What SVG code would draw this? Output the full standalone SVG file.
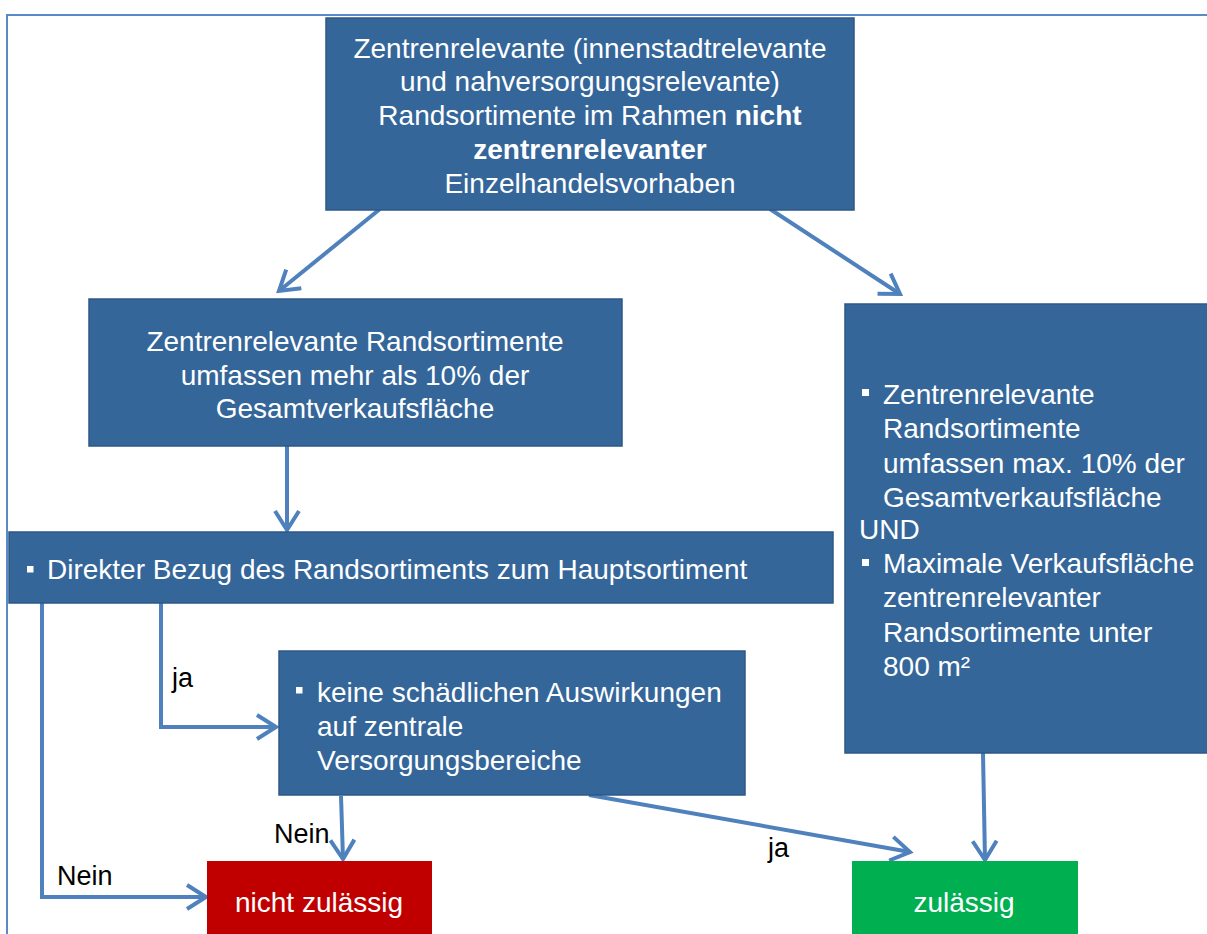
<svg xmlns="http://www.w3.org/2000/svg" width="1207" height="934" viewBox="0 0 1207 934">
<style>
.box{fill:#34669a;stroke:#2c5886;stroke-width:1.5}
.t{font-family:"Liberation Sans",Arial,sans-serif;font-size:28px;fill:#ffffff}
.c{text-anchor:middle}
.lbl{font-family:"Liberation Sans",Arial,sans-serif;font-size:27px;fill:#000000}
.con{fill:none;stroke:#4f81bd;stroke-width:4;stroke-linejoin:miter}
.bul{fill:#ffffff}
</style>
<defs>
<marker id="arr" viewBox="0 0 24 28" refX="21" refY="14" markerWidth="24" markerHeight="28" markerUnits="userSpaceOnUse" orient="auto" overflow="visible">
<path d="M2,2 L21,14 L2,26" fill="none" stroke="#4f81bd" stroke-width="4" stroke-linejoin="miter"/>
</marker>
</defs>
<rect width="1207" height="934" fill="#ffffff"/>
<path d="M7,934 L7,15 L1207,15" fill="none" stroke="#5a8ac6" stroke-width="2"/>

<g id="connectors">
<line class="con" x1="380" y1="209" x2="279" y2="291" marker-end="url(#arr)"/>
<line class="con" x1="770" y1="209" x2="900" y2="294" marker-end="url(#arr)"/>
<line class="con" x1="287" y1="446" x2="287" y2="530" marker-end="url(#arr)"/>
<polyline class="con" points="42,603 42,897 206,897" marker-end="url(#arr)"/>
<polyline class="con" points="161,603 161,727 276,727" marker-end="url(#arr)"/>
<line class="con" x1="341" y1="796" x2="343" y2="859" marker-end="url(#arr)"/>
<line class="con" x1="589" y1="795" x2="910" y2="852" marker-end="url(#arr)"/>
<line class="con" x1="983" y1="753" x2="985" y2="860" marker-end="url(#arr)"/>
<text class="lbl" x="172" y="687">ja</text>
<text class="lbl" x="57" y="885">Nein</text>
<text class="lbl" x="274" y="843">Nein</text>
<text class="lbl" x="768" y="857">ja</text>
</g>

<g id="n-top">
<rect class="box" x="326" y="18" width="528" height="192"/>
<text class="t c" x="590" y="58">Zentrenrelevante (innenstadtrelevante</text>
<text class="t c" x="590" y="91">und nahversorgungsrelevante)</text>
<text class="t c" x="590" y="125">Randsortimente im Rahmen <tspan font-weight="bold">nicht</tspan></text>
<text class="t c" x="590" y="159" font-weight="bold">zentrenrelevanter</text>
<text class="t c" x="590" y="193">Einzelhandelsvorhaben</text>
</g>

<g id="n-mehr">
<rect class="box" x="89" y="299" width="533" height="147"/>
<text class="t c" x="355" y="351">Zentrenrelevante Randsortimente</text>
<text class="t c" x="355" y="385">umfassen mehr als 10% der</text>
<text class="t c" x="355" y="418">Gesamtverkaufsfläche</text>
</g>

<g id="n-max">
<rect class="box" x="845" y="304" width="370" height="449"/>
<rect class="bul" x="862" y="389" width="7" height="7"/>
<text class="t" x="883" y="404">Zentrenrelevante</text>
<text class="t" x="883" y="438">Randsortimente</text>
<text class="t" x="883" y="473">umfassen max. 10% der</text>
<text class="t" x="883" y="507">Gesamtverkaufsfläche</text>
<text class="t" x="859" y="539">UND</text>
<rect class="bul" x="862" y="559" width="7" height="7"/>
<text class="t" x="883" y="573">Maximale Verkaufsfläche</text>
<text class="t" x="883" y="607">zentrenrelevanter</text>
<text class="t" x="883" y="642">Randsortimente unter</text>
<text class="t" x="883" y="676">800 m²</text>
</g>

<g id="n-bezug">
<rect class="box" x="9" y="532" width="824" height="71"/>
<rect class="bul" x="27" y="566" width="6.5" height="6.5"/>
<text class="t" x="47" y="579">Direkter Bezug des Randsortiments zum Hauptsortiment</text>
</g>

<g id="n-keine">
<rect class="box" x="279" y="651" width="466" height="144"/>
<rect class="bul" x="296" y="687" width="6.5" height="6.5"/>
<text class="t" x="317" y="702">keine schädlichen Auswirkungen</text>
<text class="t" x="317" y="736">auf zentrale</text>
<text class="t" x="317" y="770">Versorgungsbereiche</text>
</g>

<g id="n-nicht">
<rect x="207" y="861" width="225" height="80" fill="#c00000"/>
<text class="t c" x="319" y="912">nicht zulässig</text>
</g>

<g id="n-zul">
<rect x="852" y="861" width="226" height="80" fill="#00b050"/>
<text class="t c" x="964" y="912">zulässig</text>
</g>
</svg>
